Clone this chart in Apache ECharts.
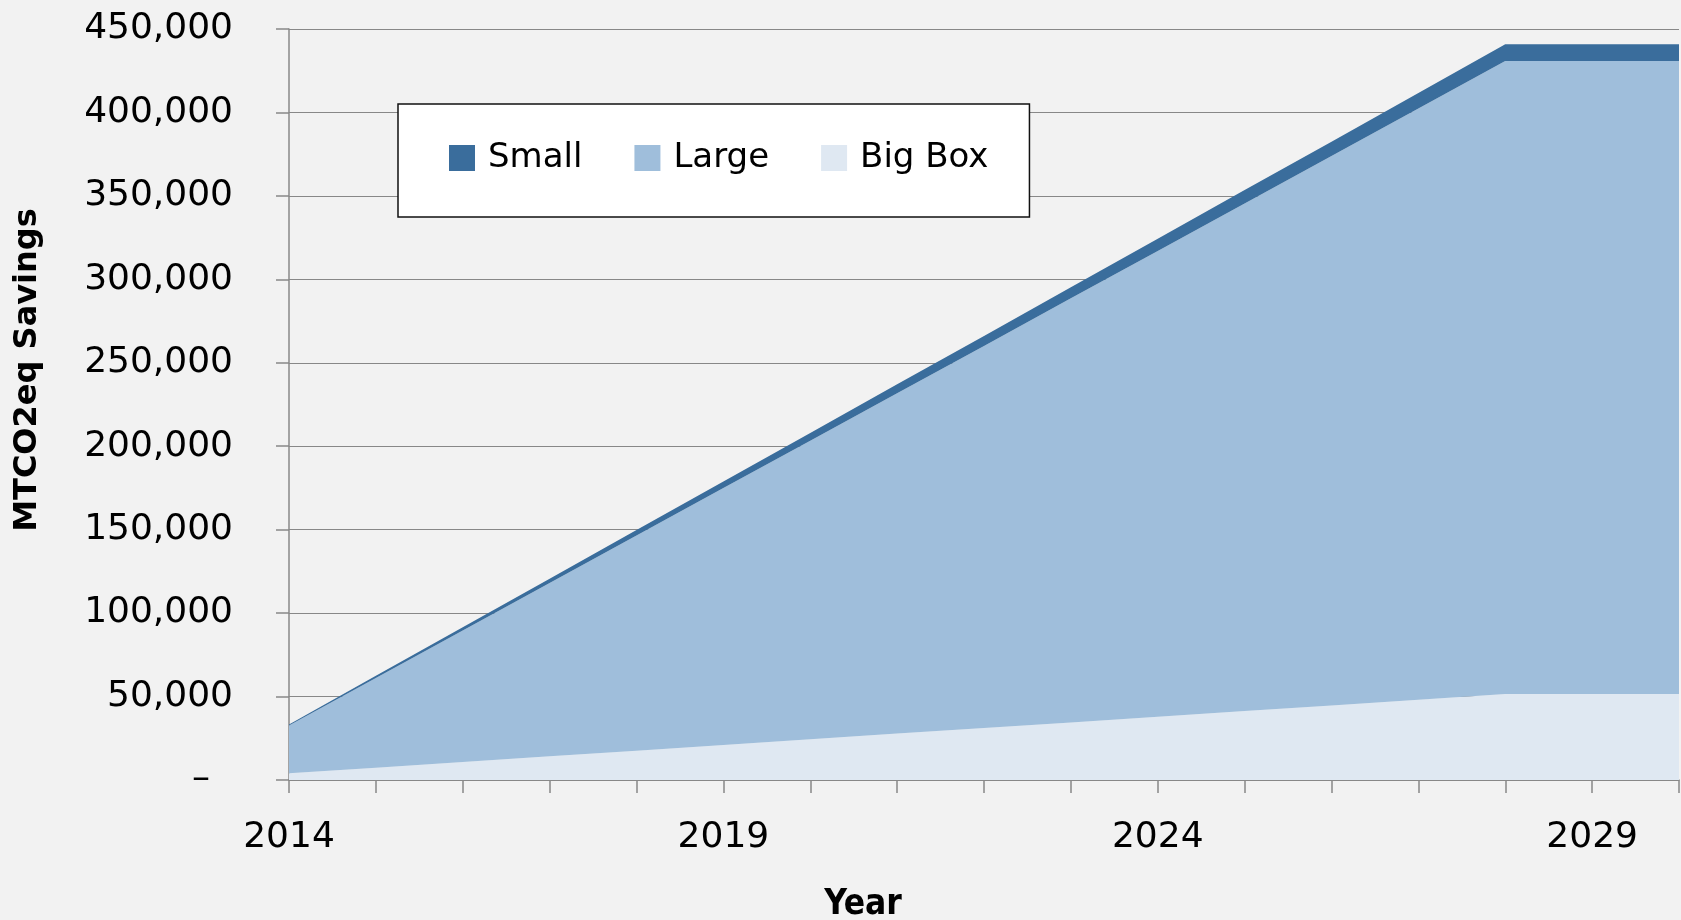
<!DOCTYPE html>
<html>
<head>
<meta charset="utf-8">
<script src="https://cdn.jsdelivr.net/npm/echarts@6/dist/echarts.min.js"></script>
<style>
  html, body { margin: 0; padding: 0; background: #f2f2f2; }
  #chart { width: 1681px; height: 920px; }
</style>
</head>
<body>
<div id="chart"></div>
<script>
var years = ['2014', '2015', '2016', '2017', '2018', '2019', '2020', '2021', '2022',
             '2023', '2024', '2025', '2026', '2027', '2028', '2029', '2030'];

// MTCO2eq savings by store size
var bigBox = [4000, 7400, 10800, 14200, 17600, 21000, 24400, 27800, 31100,
              34500, 37900, 41300, 44700, 48100, 51500, 51500, 51500];
var large = [28700, 53700, 78800, 103800, 128900, 153900, 178900, 204000, 229000,
             254100, 279100, 304200, 329200, 354200, 379300, 379300, 379300];
var small = [600, 1300, 1900, 2600, 3300, 4000, 4600, 5300, 6000,
             6600, 7300, 8000, 8600, 9300, 10000, 10000, 10000];

var labelFont = 'DejaVu Sans';

var chart = echarts.init(document.getElementById('chart'));

function area(name, data, color) {
    return {
        name: name,
        type: 'line',
        stack: 'total',
        data: data,
        showSymbol: false,
        symbol: 'none',
        lineStyle: { width: 0 },
        itemStyle: { color: color },
        areaStyle: { color: color, opacity: 1 },
        emphasis: { disabled: true }
    };
}

var option = {
    backgroundColor: '#f2f2f2',
    animation: false,
    grid: { left: 289, right: 2, top: 29, bottom: 140 },
    legend: {
        data: ['Small', 'Large', 'Big Box'],
        left: 398,
        top: 104,
        padding: [37, 41, 42, 51],
        itemWidth: 26,
        itemHeight: 26,
        itemGap: 52,
        icon: 'rect',
        backgroundColor: '#ffffff',
        borderColor: '#111111',
        borderWidth: 1.5,
        borderRadius: 0,
        textStyle: { fontFamily: labelFont, fontSize: 34, color: '#000', padding: [0, 0, 4, 8] }
    },
    xAxis: {
        type: 'category',
        data: years,
        boundaryGap: false,
        axisLine: { lineStyle: { color: '#888', width: 1.5 } },
        axisTick: { show: true, interval: 0, length: 13, lineStyle: { color: '#888', width: 1.5 } },
        axisLabel: { interval: 4, margin: 40, fontFamily: labelFont, fontSize: 36, color: '#000' },
        splitLine: { show: false }
    },
    yAxis: {
        type: 'value',
        min: 0,
        max: 450000,
        interval: 50000,
        axisLine: { show: true, lineStyle: { color: '#888', width: 1.5 } },
        axisTick: { show: true, length: 13, lineStyle: { color: '#888', width: 1.5 } },
        splitLine: { lineStyle: { color: '#888', width: 1.2 } },
        axisLabel: {
            margin: 56,
            fontFamily: labelFont,
            fontSize: 36,
            color: '#000',
            padding: [0, 0, 18, 0],
            formatter: function (v) {
                return v === 0 ? '\u2013  ' : v.toLocaleString('en-US');
            }
        }
    },
    graphic: [
        {
            type: 'text',
            x: 28,
            y: 370,
            rotation: Math.PI / 2,
            style: {
                text: 'MTCO2eq Savings',
                fontFamily: labelFont,
                fontWeight: 'bold',
                fontSize: 32,
                fill: '#000',
                align: 'center',
                verticalAlign: 'middle'
            }
        },
        {
            type: 'text',
            x: 863,
            y: 905,
            style: {
                text: 'Year',
                fontFamily: "'DejaVu Sans Condensed', 'DejaVu Sans'",
                fontWeight: 'bold',
                fontSize: 35,
                fill: '#000',
                align: 'center',
                verticalAlign: 'middle'
            }
        }
    ],
    series: [
        area('Big Box', bigBox, '#dfe8f2'),
        area('Large', large, '#9fbedb'),
        area('Small', small, '#3a6d9c')
    ]
};

chart.setOption(option);
window.addEventListener('resize', function () {
    chart.resize();
});
</script>
</body>
</html>
